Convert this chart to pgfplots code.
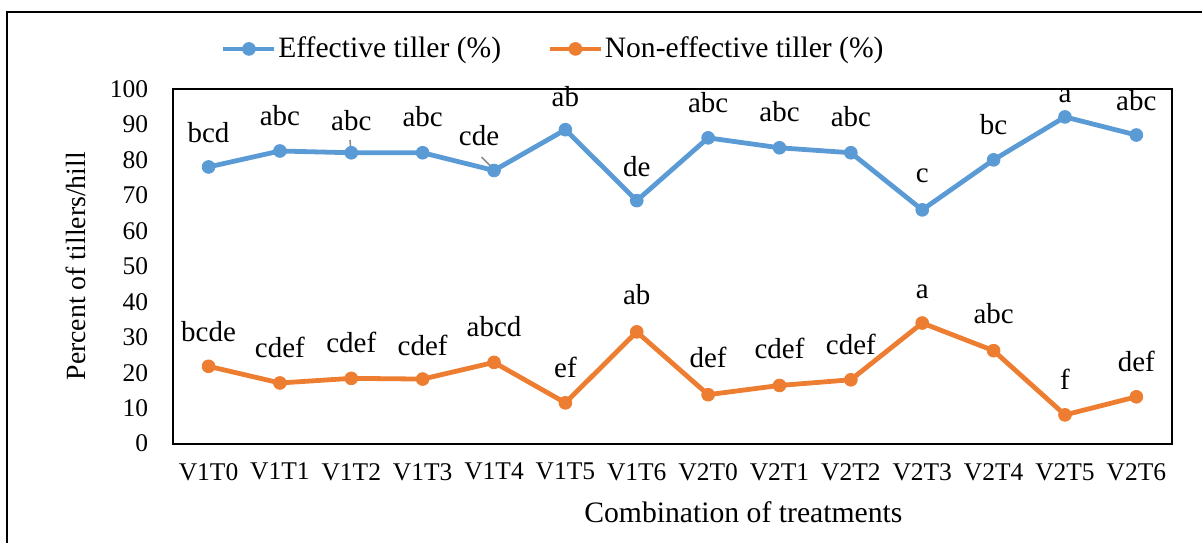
\documentclass[border=0pt]{standalone}
\usepackage{pgfplots}
\usepackage{pgfplotstable}
\pgfplotsset{compat=1.18}
\usepackage{fontspec}
\setmainfont{Liberation Serif}
\definecolor{exblue}{HTML}{5B9BD5}
\definecolor{exorange}{HTML}{ED7D31}

\pgfplotstableread{
x y lab dx dy
0 78.0 bcd 0 12
1 82.5 abc 0 13
2 82.0 abc 0 11
3 82.0 abc 0 13
4 77.0 cde -7.5 12.5
5 88.5 ab 0 11.5
6 68.5 de 0 12
7 86.2 abc 0 12.5
8 83.4 abc 0 13
9 82.0 abc 0 13
10 65.9 c 0 13.5
11 80.0 bc 0 12.5
12 92.1 a 0 7
13 87.0 abc 0 12.5
}\eff

\pgfplotstableread{
x y lab dx dy
0 21.8 bcde 0 12.5
1 17.1 cdef 0 12.5
2 18.4 cdef 0 13
3 18.2 cdef 0 12
4 22.9 abcd 0 13
5 11.5 ef 0 12.5
6 31.5 ab 0 13.5
7 13.8 def 0 13.5
8 16.4 cdef 0 13.5
9 18.0 cdef 0 12.5
10 34.0 a 0 12.5
11 26.2 abc 0 13.5
12 8.1 f 0 12.5
13 13.2 def 0 12.5
}\noneff

\begin{document}
\begin{tikzpicture}
\path (-86.5pt,-49.5pt) rectangle (515pt,222pt);
\draw[line width=1pt] (-83pt,-49.5pt) -- (-83pt,216pt) -- (515pt,216pt);
\begin{axis}[
  at={(0,0)}, anchor=south west,
  scale only axis, width=500pt, height=177.5pt,
  xmin=-0.5, xmax=13.5, ymin=0, ymax=100,
  xtick={0,...,13},
  xticklabels={V1T0,V1T1,V1T2,V1T3,V1T4,V1T5,V1T6,V2T0,V2T1,V2T2,V2T3,V2T4,V2T5,V2T6},
  ytick={0,10,...,100},
  major tick length=0pt,
  axis line style={line width=1pt, black},
  tick label style={font=\fontsize{12.75pt}{15pt}\selectfont, black},
  /pgf/number format/assume math mode=true,
  xticklabel style={yshift=-6.25pt},
  yticklabel style={xshift=-8.9pt},
  xlabel={Combination of treatments},
  xlabel style={at={(axis description cs:0.571,-0.194)}, anchor=center, font=\fontsize{14.85pt}{17pt}\selectfont},
  ylabel={Percent of tillers/hill},
  ylabel style={at={(axis description cs:-0.097,0.5)}, anchor=center, font=\fontsize{13.9pt}{16pt}\selectfont},
  legend columns=2,
  legend style={draw=none, fill=none, at={(axis description cs:0.3805,1.1127)}, anchor=center,
    font=\fontsize{14.8pt}{17pt}\selectfont,
    /tikz/every even column/.append style={column sep=22.5pt},
    nodes={inner xsep=0.75pt, inner ysep=1pt}},
  legend image code/.code={\draw[#1, mark repeat=2, mark phase=2] plot coordinates {(0pt,0pt) (12.75pt,0pt) (25.5pt,0pt)};},
  clip=false,
  nodes near coords,
  point meta=explicit symbolic,
  visualization depends on={\thisrow{dx}\as\dx},
  visualization depends on={\thisrow{dy}\as\dy},
  every node near coord/.append style={anchor=base, xshift=\dx pt, yshift=\dy pt, black, font=\fontsize{14.5pt}{17pt}\selectfont},
]
\addplot[color=exblue, line width=2.4pt, line join=round, mark=*, mark size=3.2pt, mark options={solid, fill=exblue, line width=0.4pt}]
  table[x=x, y=y, meta=lab] {\eff};
\addlegendentry{Effective tiller (\%)}
\addplot[color=exorange, line width=2.4pt, line join=round, mark=*, mark size=3.2pt, mark options={solid, fill=exorange, line width=0.4pt}]
  table[x=x, y=y, meta=lab] {\noneff};
\addlegendentry{Non-effective tiller (\%)}
\draw[black!45, line width=0.8pt] (axis cs:1.982,85.6) -- (axis cs:1.995,82.4);
\draw[black!45, line width=0.8pt] (axis cs:3.826,80.8) -- (axis cs:3.985,77.6);
\end{axis}
\end{tikzpicture}
\end{document}
